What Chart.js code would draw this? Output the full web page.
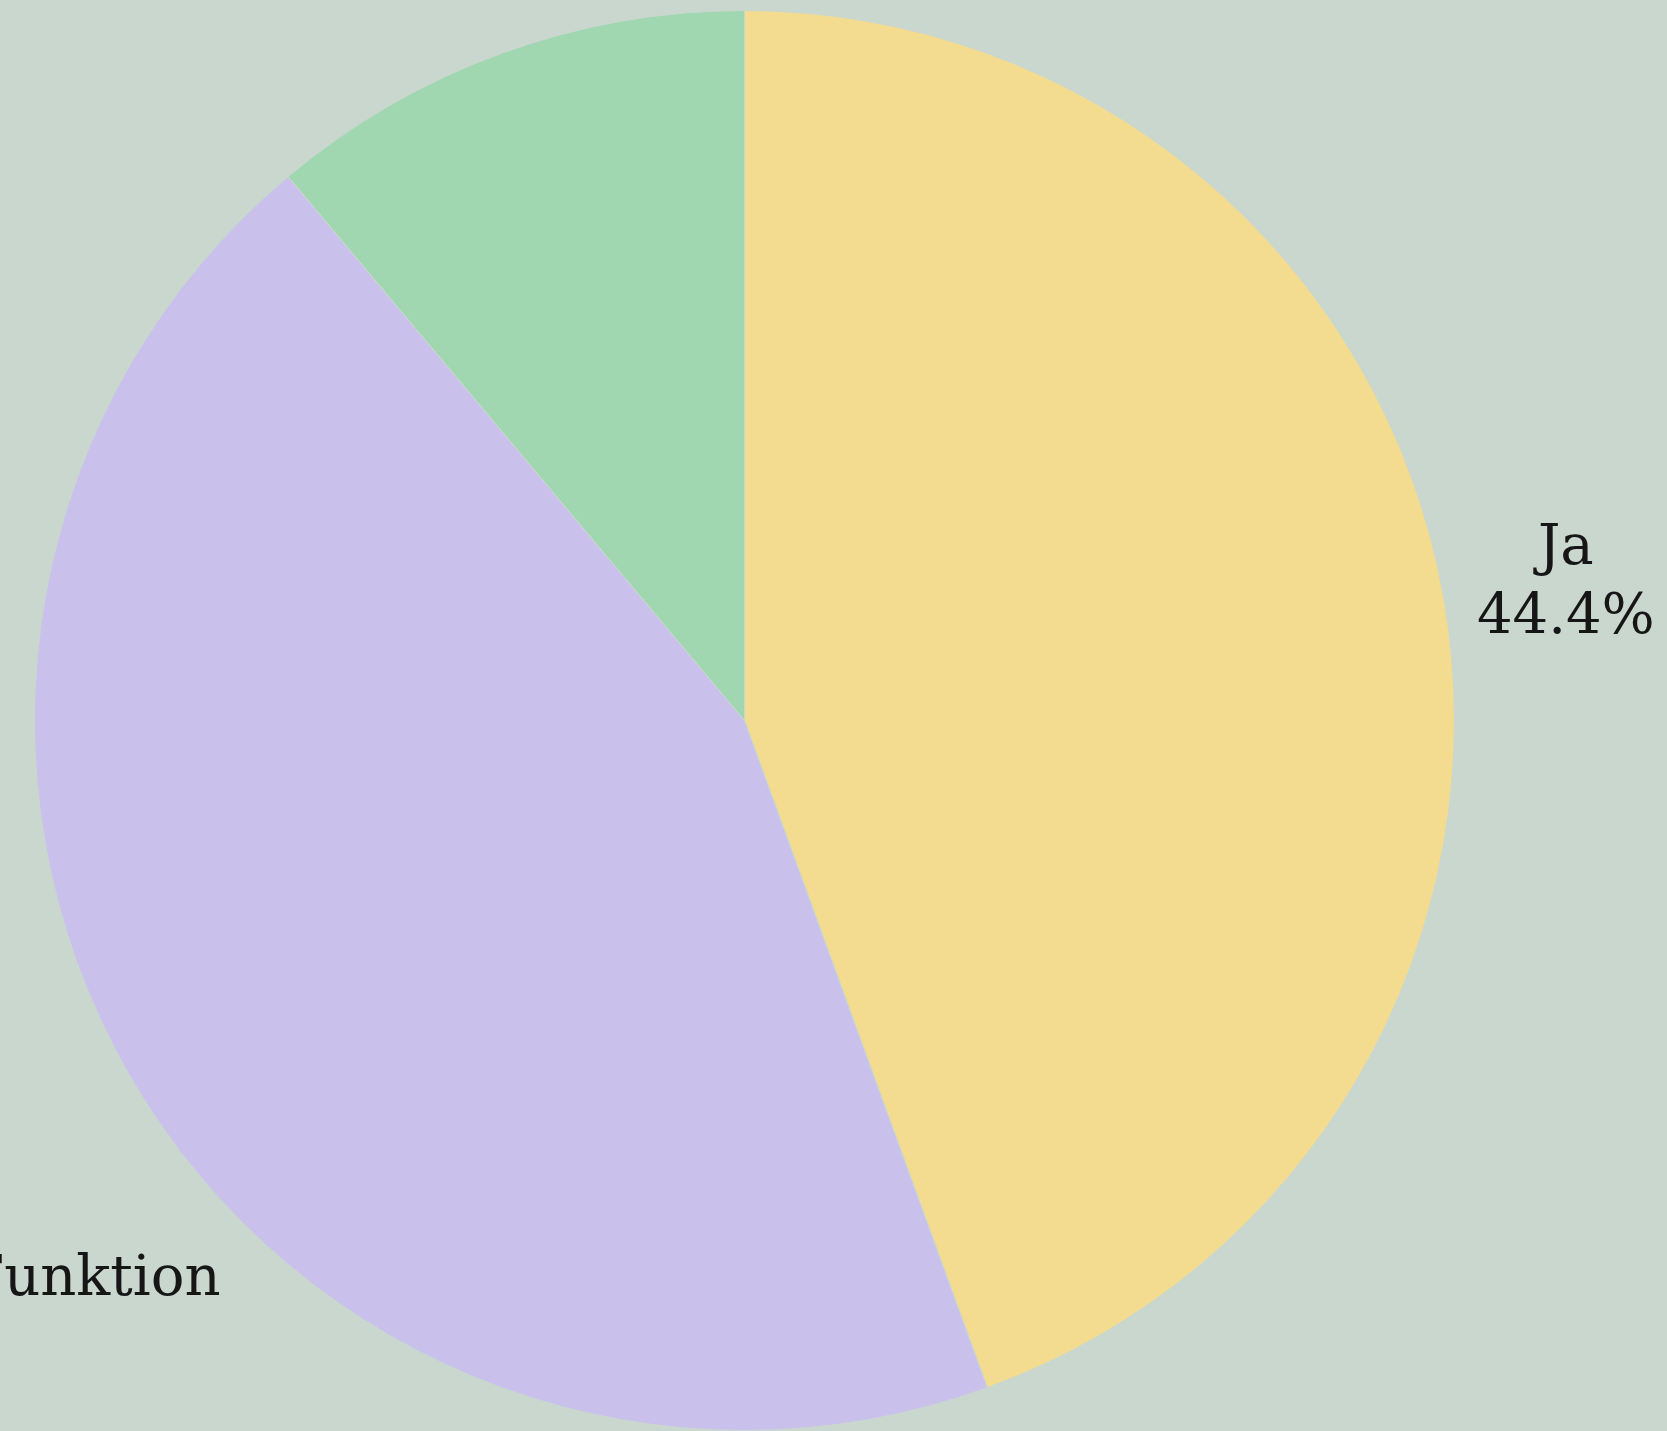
<!DOCTYPE html>
<html>
<head>
<meta charset="utf-8">
<script src="https://cdn.jsdelivr.net/npm/chart.js@4/dist/chart.umd.min.js"></script>
<style>
  html, body { margin: 0; padding: 0; background: #C9D7CE; overflow: hidden; }
  canvas { display: block; }
</style>
</head>
<body>
<canvas id="pieChart" width="1667" height="1431"></canvas>
<script>
// survey answers
var labels = ['Ja', 'Nein, mir fehlt noch eine Funktion', 'Weiß ich nicht'];
var values = [4, 4, 1];
var colors = ['#F3DB8F', '#C9C1EC', '#A0D6B0'];

var bg = '#C9D7CE';

// draws "name / percent" outside each slice, pushed out until it clears the pie
var outsideLabels = {
  id: 'outsideLabels',
  afterDatasetsDraw: function(chart) {
    var ctx = chart.ctx;
    var meta = chart.getDatasetMeta(0);
    var total = values.reduce(function(a, b) { return a + b; }, 0);
    var fontSize = 56, lineH = 69, gap = 26, yShift = 8;
    ctx.save();
    ctx.font = fontSize + 'px "DejaVu Serif", serif';
    ctx.fillStyle = '#161616';
    ctx.textAlign = 'center';
    ctx.textBaseline = 'middle';
    meta.data.forEach(function(arc, i) {
      var p = arc.getProps(['x', 'y', 'startAngle', 'endAngle', 'outerRadius'], true);
      var mid = (p.startAngle + p.endAngle) / 2;
      var dx = Math.cos(mid), dy = Math.sin(mid);
      var lines = [labels[i], (values[i] / total * 100).toFixed(1) + '%'];
      var w = Math.max.apply(null, lines.map(function(l) { return ctx.measureText(l).width; }));
      var h = lines.length * lineH;
      var t = p.outerRadius;
      for (; t < p.outerRadius * 3; t += 1) {
        var cx = p.x + dx * t, cy = p.y + dy * t;
        var nx = Math.max(cx - w / 2, Math.min(p.x, cx + w / 2));
        var ny = Math.max(cy - h / 2, Math.min(p.y, cy + h / 2));
        if (Math.hypot(nx - p.x, ny - p.y) >= p.outerRadius + gap) break;
      }
      var bx = p.x + dx * t, by = p.y + dy * t + yShift;
      lines.forEach(function(l, k) {
        ctx.fillText(l, bx, by - h / 2 + lineH * (k + 0.5));
      });
    });
    ctx.restore();
  }
};

new Chart(document.getElementById('pieChart'), {
  type: 'pie',
  data: {
    labels: labels,
    datasets: [{
      data: values,
      backgroundColor: colors,
      borderColor: bg,
      borderWidth: 1
    }]
  },
  options: {
    responsive: false,
    animation: false,
    layout: {
      padding: { left: 31, right: 209, top: 10, bottom: -6 }
    },
    plugins: {
      legend: { display: false },
      tooltip: { enabled: false }
    }
  },
  plugins: [outsideLabels]
});
</script>
</body>
</html>
